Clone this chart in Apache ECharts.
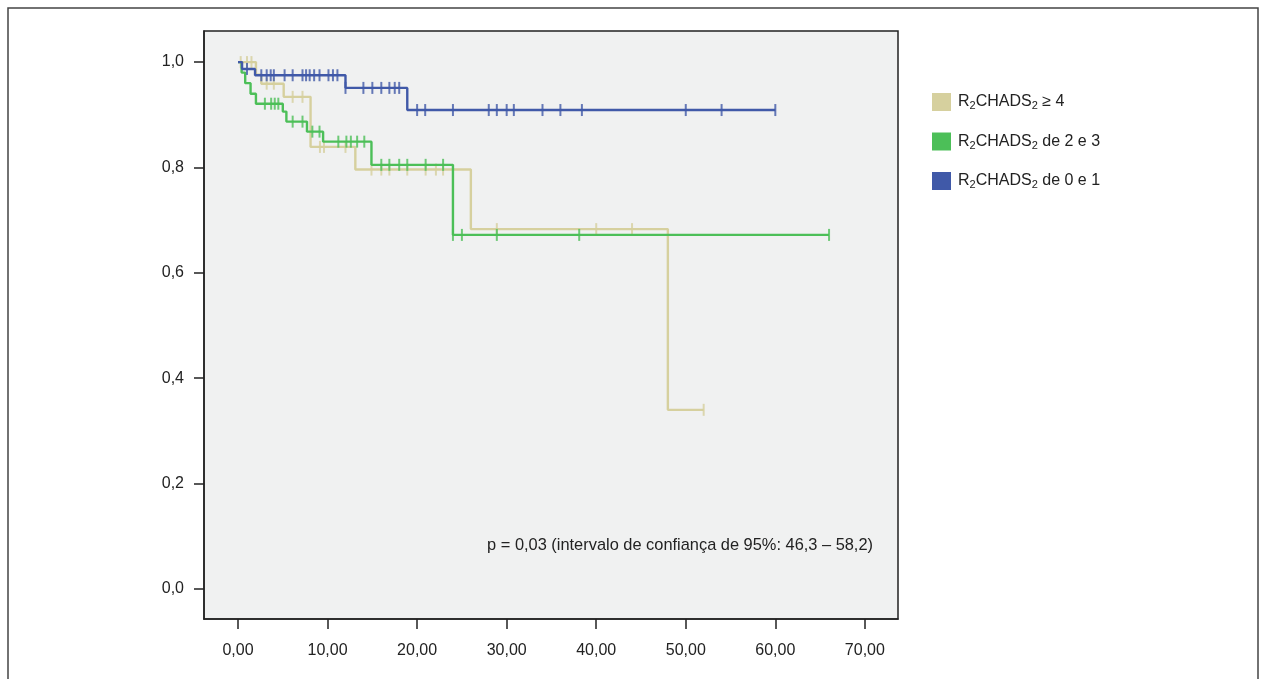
<!DOCTYPE html>
<html>
<head>
<meta charset="utf-8">
<script src="https://cdn.jsdelivr.net/npm/echarts@6/dist/echarts.min.js"></script>
<style>
  html, body { margin: 0; padding: 0; background: #fff; }
  #chart { width: 1266px; height: 679px; }
</style>
</head>
<body>
<div id="chart"></div>
<script>
// tick labels
const xTicks = [0, 10, 20, 30, 40, 50, 60, 70];
const yTicks = [0, 0.2, 0.4, 0.6, 0.8, 1.0];

const groupNames = ['R2CHADS2 ≥ 4', 'R2CHADS2 de 2 e 3', 'R2CHADS2 de 0 e 1'];
const groupColors = ['#d6d09e', '#4cbf58', '#4059a8'];

// R2CHADS2 >= 4 : event times / survival, censored times, last follow-up
const highTimes = [0, 2.0, 2.6, 5.1, 8.1, 13.1, 26.0, 48.0];
const highSurv = [1.0, 0.976, 0.959, 0.934, 0.839, 0.796, 0.683, 0.34];
const highCensor = [0.3, 1.0, 1.5, 3.2, 4.0, 6.1, 7.2, 9.15, 9.6, 12.0, 14.9, 16.0, 16.9, 18.9, 20.95, 22.1, 22.9, 28.9, 40.0, 44.0, 52.0];
const highEnd = 52.0;

// R2CHADS2 de 2 e 3
const midTimes = [0, 0.4, 0.8, 1.4, 2.0, 5.0, 5.4, 7.7, 9.5, 14.9, 24.0];
const midSurv = [1.0, 0.98, 0.96, 0.94, 0.921, 0.906, 0.887, 0.868, 0.849, 0.805, 0.672];
const midCensor = [3.0, 3.7, 4.1, 4.5, 6.1, 7.2, 8.3, 9.1, 11.2, 12.1, 12.6, 13.3, 14.1, 16.0, 16.9, 18.0, 18.9, 20.95, 22.9, 24.0, 25.0, 28.9, 38.1, 66.0];
const midEnd = 66.0;

// R2CHADS2 de 0 e 1
const lowTimes = [0, 0.45, 1.9, 12.0, 18.9];
const lowSurv = [1.0, 0.987, 0.975, 0.951, 0.909];
const lowCensor = [1.0, 2.6, 3.2, 3.65, 4.0, 5.2, 6.1, 7.2, 7.6, 8.0, 8.5, 9.1, 10.1, 10.6, 11.1, 12.0, 14.0, 15.0, 16.0, 16.9, 17.5, 18.0, 20.0, 20.9, 24.0, 28.0, 28.9, 30.0, 30.8, 34.0, 36.0, 38.4, 50.0, 54.0, 60.0];
const lowEnd = 60.0;

const pText = 'p = 0,03 (intervalo de confiança de 95%: 46,3 – 58,2)';

const FONT = '"Liberation Sans", Arial, sans-serif';

function stepPoints(times, surv, end) {
  const pts = times.map((t, i) => [t, surv[i]]);
  pts.push([end, surv[surv.length - 1]]);
  return pts;
}
function survAt(times, surv, t) {
  let s = surv[0];
  for (let i = 0; i < times.length; i++) {
    if (times[i] <= t) s = surv[i];
  }
  return s;
}
function censorPoints(times, surv, cens) {
  return cens.map(t => [t, survAt(times, surv, t)]);
}

const groups = [
  [highTimes, highSurv, highCensor, highEnd],
  [midTimes, midSurv, midCensor, midEnd],
  [lowTimes, lowSurv, lowCensor, lowEnd],
];

const series = [];
groups.forEach((g, i) => {
  series.push({
    name: groupNames[i],
    type: 'line',
    step: 'end',
    showSymbol: false,
    lineStyle: { color: groupColors[i], width: 2.4 },
    itemStyle: { color: groupColors[i] },
    data: stepPoints(g[0], g[1], g[3]),
    z: 2 + i,
  });
  series.push({
    name: groupNames[i],
    type: 'scatter',
    symbol: 'rect',
    symbolSize: [2, 12],
    itemStyle: { color: groupColors[i] },
    data: censorPoints(g[0], g[1], g[2]),
    z: 2 + i,
  });
});

const chart = echarts.init(document.getElementById('chart'));
chart.setOption({
  animation: false,
  backgroundColor: '#fff',
  grid: {
    left: 204, top: 31, width: 694, height: 588,
    show: true,
    backgroundColor: '#f0f1f1',
    borderColor: '#222',
    borderWidth: 1.5,
  },
  legend: {
    orient: 'vertical',
    left: 927, top: 88,
    itemWidth: 19, itemHeight: 18, itemGap: 21,
    icon: 'rect',
    data: groupNames.map((n, i) => ({ name: n, itemStyle: { color: groupColors[i] } })),
    formatter: n => n.replace('R2CHADS2', 'R{s|2}CHADS{s|2}'),
    textStyle: {
      fontFamily: FONT, fontSize: 16, color: '#222', padding: [0, 0, 0, 2],
      rich: { s: { fontFamily: FONT, fontSize: 11, color: '#222', padding: [8, 0, 0, 0] } },
    },
  },
  xAxis: {
    type: 'value',
    min: -3.8, max: 73.7,
    axisLine: { show: true, onZero: false, lineStyle: { color: '#222', width: 1.5 } },
    axisTick: { show: true, customValues: xTicks, length: 10, lineStyle: { color: '#222', width: 1.5 } },
    axisLabel: {
      customValues: xTicks, margin: 24,
      fontFamily: FONT, fontSize: 16, color: '#222',
      formatter: v => v.toFixed(2).replace('.', ','),
    },
    splitLine: { show: false },
  },
  yAxis: {
    type: 'value',
    min: -0.057, max: 1.059,
    axisLine: { show: true, onZero: false, lineStyle: { color: '#222', width: 1.5 } },
    axisTick: { show: true, customValues: yTicks, length: 10, lineStyle: { color: '#222', width: 1.5 } },
    axisLabel: {
      customValues: yTicks, margin: 20,
      fontFamily: FONT, fontSize: 16, color: '#222',
      formatter: v => v.toFixed(1).replace('.', ','),
    },
    splitLine: { show: false },
  },
  graphic: [
    {
      type: 'rect', silent: true, z: -10,
      shape: { x: 8, y: 8, width: 1250, height: 700 },
      style: { fill: 'none', stroke: '#444', lineWidth: 1.5 },
    },
    {
      type: 'text', silent: true, z: 10,
      x: 873, y: 545,
      style: { text: pText, fontFamily: FONT, fontSize: 16.4, fill: '#222', align: 'right', verticalAlign: 'middle' },
    },
  ],
  series: series,
});
</script>
</body>
</html>
